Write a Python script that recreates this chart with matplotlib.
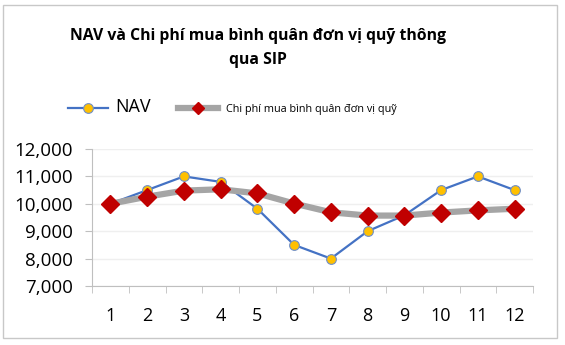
import matplotlib.pyplot as plt
from matplotlib.patches import Rectangle
from matplotlib.ticker import FuncFormatter, FixedLocator
from matplotlib.legend_handler import HandlerLine2D

plt.rcParams['font.family'] = ['Open Sans', 'DejaVu Sans']

# --- data ---
months = [1, 2, 3, 4, 5, 6, 7, 8, 9, 10, 11, 12]
nav = [10000, 10500, 11000, 10800, 9820, 8500, 8000, 9000, 9580, 10500, 11000, 10500]
avg_cost = [10000, 10260, 10480, 10530, 10380, 10010, 9690, 9570, 9570, 9680, 9760, 9820]

title = "NAV và Chi phí mua bình quân đơn vị quỹ thông\nqua SIP"
nav_label = "NAV"
cost_label = "Chi phí mua bình quân đơn vị quỹ"

fig = plt.figure(figsize=(5.65, 3.45), dpi=100)
ax = fig.add_axes([92 / 565, 59 / 345, 441 / 565, 137 / 345])

l_nav, = ax.plot(months, nav, '-o', color='#4472C4', lw=1.6,
                 markersize=7, markerfacecolor='#FFC000',
                 markeredgecolor='#6F8FC9', markeredgewidth=0.8, zorder=3)
l_cost, = ax.plot(months, avg_cost, '-D', color='#A5A5A5', lw=4.5,
                  markersize=9.5, markerfacecolor='#C00000',
                  markeredgecolor='#C00000', zorder=4)

ax.set_xlim(0.5, 12.5)
ax.set_ylim(7000, 12000)
ax.set_yticks(range(7000, 12001, 1000))
ax.yaxis.set_major_formatter(FuncFormatter(lambda v, p: f"{int(v):,}"))
ax.set_xticks(months)
ax.xaxis.set_minor_locator(FixedLocator([m + 0.5 for m in [0] + months]))
ax.tick_params(axis='x', which='major', length=0, labelsize=13, pad=15)
ax.tick_params(axis='x', which='minor', length=5, color='#BFBFBF')
ax.tick_params(axis='y', length=5, color='#BFBFBF', labelsize=13.5, pad=9)

ax.grid(axis='y', color='#EFEFEF', lw=1)
ax.set_axisbelow(True)
for s in ['top', 'right']:
    ax.spines[s].set_visible(False)
for s in ['left', 'bottom']:
    ax.spines[s].set_color('#BFBFBF')

fig.text(258 / 565, 1 - 48 / 345, title, ha='center', va='center',
         fontsize=11.3, fontweight='bold', linespacing=1.6)


def small_marker(legline, orig):
    legline.update_from(orig)
    legline.set_markersize(6.5)


leg = fig.legend([l_nav, l_cost], [nav_label, cost_label], ncol=2,
                 loc='center', bbox_to_anchor=(232 / 565, 1 - 107 / 345),
                 frameon=False, handlelength=3.2, columnspacing=2.2,
                 handletextpad=0.6, fontsize=9,
                 handler_map={l_cost: HandlerLine2D(update_func=small_marker)})
leg.get_texts()[0].set_fontsize(13)
leg.get_texts()[1].set_fontsize(7.8)

fig.add_artist(Rectangle((3 / 565, 1 - 338 / 345), 554 / 565, 333 / 345,
                         transform=fig.transFigure, fill=False,
                         edgecolor='#C8C8C8', lw=1))

fig.savefig("out.png", dpi=100)
